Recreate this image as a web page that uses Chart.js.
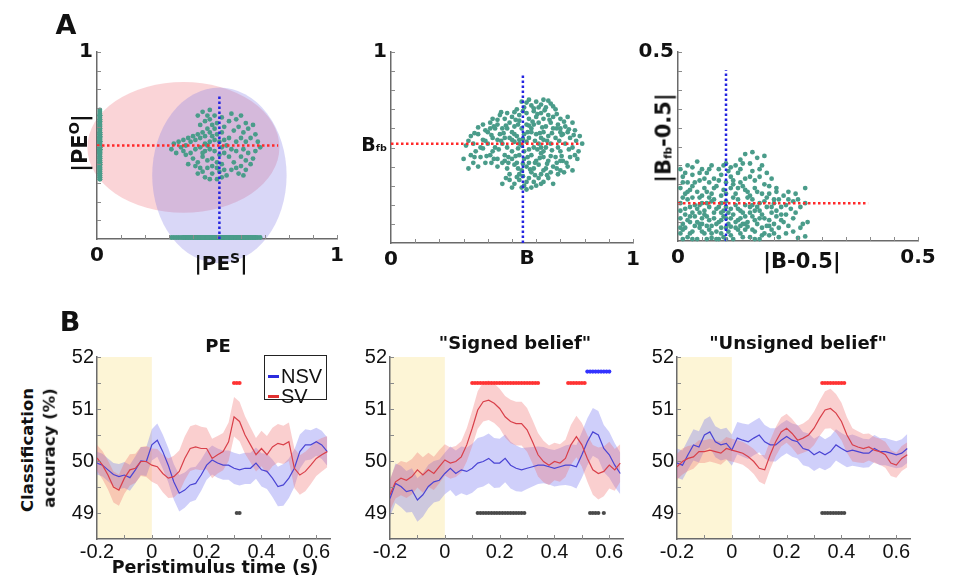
<!DOCTYPE html>
<html>
<head>
<meta charset="utf-8">
<script src="https://cdn.jsdelivr.net/npm/chart.js@4.4.1/dist/chart.umd.min.js"></script>
<style>
body { margin: 0; background: #fff; }
#fig { position: relative; width: 962px; height: 586px; overflow: hidden; font-family: 'DejaVu Sans', sans-serif; color: #111; }
#fig canvas { position: absolute; }
.lbl { position: absolute; font-weight: bold; white-space: nowrap; transform: translate(-50%, -50%); line-height: 1; }
.rot { transform: translate(-50%, -50%) rotate(-90deg); }
.lbl sup { font-size: 70%; vertical-align: 0.55em; }
.lbl sub { font-size: 50%; vertical-align: -0.1em; }
#legend { position: absolute; left: 264px; top: 355px; width: 61px; height: 43px; border: 1.5px solid #222; background: #fff;
  font-family: 'Liberation Sans', Arial, sans-serif; font-size: 20px; }
#legend div { position: absolute; left: 16px; line-height: 1; }
#legend span { position: absolute; left: -13px; top: 9px; width: 11px; height: 2.5px; }
</style>
</head>
<body>
<div id="fig">
  <div class="lbl" style="left:66px;top:24px;font-size:27px">A</div>
  <div class="lbl" style="left:70px;top:321px;font-size:27px">B</div>

  <div class="lbl" style="left:221px;top:262px;font-size:20px">|PE<sup>S</sup>|</div>
  <div class="lbl rot" style="left:79px;top:143px;font-size:21px">|PE<sup>O</sup>|</div>
  <div class="lbl" style="left:527px;top:257px;font-size:20px">B</div>
  <div class="lbl" style="left:374px;top:144px;font-size:19px">B<sub>fb</sub></div>
  <div class="lbl" style="left:802px;top:261px;font-size:21px">|B-0.5|</div>
  <div class="lbl rot" style="left:664px;top:138px;font-size:21px">|B<sub>fb</sub>-0.5|</div>

  <div class="lbl" style="left:218px;top:346px;font-size:18px">PE</div>
  <div class="lbl" style="left:515px;top:343px;font-size:18px">"Signed belief"</div>
  <div class="lbl" style="left:798px;top:343px;font-size:18px">"Unsigned belief"</div>
  <div class="lbl rot" style="left:28px;top:450px;font-size:16.5px">Classification</div>
  <div class="lbl rot" style="left:50px;top:448px;font-size:16.5px">accuracy (%)</div>
  <div class="lbl" style="left:215px;top:568px;font-size:17.5px">Peristimulus time (s)</div>

  <div id="legend">
    <div style="top:10px"><span style="background:#2b2bdd"></span>NSV</div>
    <div style="top:30px"><span style="background:#e03030"></span>SV</div>
  </div>
</div>

<script>
// ---- panel A : simulated trials ----
const cloudPE = [
  [0.42,0.66],[0.44,0.68],[0.46,0.66],[0.45,0.63],[0.43,0.61],[0.47,0.64],[0.48,0.61],[0.46,0.59],[0.44,0.57],[0.42,0.56],
  [0.40,0.55],[0.38,0.54],[0.36,0.53],[0.34,0.52],[0.32,0.51],[0.35,0.49],[0.37,0.50],[0.39,0.52],[0.41,0.53],[0.43,0.54],
  [0.45,0.55],[0.47,0.57],[0.49,0.59],[0.48,0.55],[0.50,0.56],[0.50,0.62],[0.49,0.66],[0.47,0.69],[0.52,0.65],[0.53,0.60],
  [0.55,0.63],[0.56,0.67],[0.58,0.64],[0.60,0.66],[0.62,0.62],[0.59,0.60],[0.57,0.58],[0.61,0.57],[0.63,0.59],[0.65,0.61],
  [0.66,0.56],[0.64,0.54],[0.67,0.52],[0.62,0.52],[0.60,0.54],[0.58,0.52],[0.55,0.54],[0.53,0.53],[0.52,0.57],[0.54,0.50],
  [0.56,0.48],[0.58,0.47],[0.61,0.48],[0.63,0.46],[0.66,0.47],[0.68,0.49],[0.65,0.43],[0.62,0.42],[0.60,0.44],[0.57,0.41],
  [0.55,0.44],[0.53,0.46],[0.51,0.45],[0.49,0.47],[0.47,0.48],[0.45,0.47],[0.43,0.49],[0.41,0.48],[0.39,0.46],[0.37,0.45],
  [0.36,0.47],[0.33,0.46],[0.31,0.48],[0.40,0.43],[0.42,0.41],[0.44,0.44],[0.46,0.42],[0.48,0.43],[0.50,0.41],[0.52,0.40],
  [0.50,0.38],[0.48,0.39],[0.46,0.38],[0.44,0.36],[0.42,0.35],[0.45,0.33],[0.48,0.35],[0.51,0.36],[0.53,0.37],[0.54,0.34],
  [0.56,0.37],[0.58,0.38],[0.60,0.39],[0.62,0.37],[0.61,0.34],[0.59,0.35],[0.64,0.40],[0.52,0.33],[0.50,0.32],[0.47,0.32],
  [0.43,0.38],[0.41,0.39],[0.38,0.40],[0.45,0.51],[0.47,0.52],[0.51,0.52],[0.52,0.49],[0.49,0.53],[0.46,0.50],[0.44,0.46]
];
const crossPE = [0.51, 0.50];        // mean |PE_S|, mean |PE_O|
const crossPEEnd = [0.755, 0.775];   // end of red / blue dotted lines
const ellipsesPE = [[0.36, 0.49, 0.40, 0.35], [0.51, 0.34, 0.28, 0.47]]; // cx, cy, rx, ry

const cloudB = [
  [0.54,0.74],[0.57,0.75],[0.60,0.74],[0.63,0.75],[0.66,0.73],[0.58,0.72],[0.61,0.71],[0.55,0.71],[0.52,0.70],[0.64,0.71],[0.68,0.70],
  [0.45,0.67],[0.48,0.68],[0.50,0.66],[0.53,0.67],[0.56,0.68],[0.59,0.69],[0.62,0.68],[0.65,0.67],[0.67,0.66],[0.70,0.65],[0.42,0.65],
  [0.47,0.65],[0.57,0.65],[0.60,0.66],[0.63,0.65],[0.73,0.66],
  [0.38,0.62],[0.41,0.63],[0.44,0.62],[0.46,0.60],[0.49,0.63],[0.51,0.61],[0.53,0.64],[0.56,0.62],[0.58,0.60],[0.61,0.63],[0.64,0.61],
  [0.66,0.63],[0.69,0.62],[0.72,0.61],[0.75,0.63],[0.39,0.59],[0.43,0.60],[0.48,0.60],[0.54,0.60],[0.59,0.62],[0.63,0.58],[0.67,0.60],
  [0.70,0.58],[0.76,0.59],
  [0.33,0.56],[0.36,0.57],[0.40,0.58],[0.42,0.55],[0.45,0.57],[0.47,0.55],[0.50,0.58],[0.52,0.56],[0.55,0.57],[0.57,0.55],[0.60,0.57],
  [0.62,0.55],[0.65,0.56],[0.68,0.55],[0.71,0.57],[0.74,0.55],[0.78,0.56],[0.38,0.54],[0.44,0.54],[0.49,0.55],[0.53,0.54],[0.58,0.58],
  [0.63,0.54],[0.73,0.58],
  [0.31,0.51],[0.34,0.52],[0.37,0.50],[0.40,0.52],[0.43,0.50],[0.46,0.52],[0.48,0.50],[0.51,0.53],[0.54,0.51],[0.56,0.53],[0.59,0.50],
  [0.61,0.52],[0.64,0.50],[0.66,0.52],[0.69,0.50],[0.72,0.52],[0.75,0.50],[0.79,0.52],[0.35,0.48],[0.42,0.48],[0.50,0.48],[0.57,0.49],
  [0.63,0.48],[0.70,0.48],
  [0.30,0.44],[0.33,0.46],[0.37,0.45],[0.41,0.46],[0.44,0.44],[0.47,0.46],[0.50,0.44],[0.53,0.46],[0.55,0.44],[0.58,0.46],[0.60,0.43],
  [0.63,0.45],[0.65,0.43],[0.68,0.45],[0.71,0.43],[0.74,0.45],[0.77,0.44],[0.39,0.42],[0.46,0.42],[0.52,0.42],[0.57,0.42],[0.62,0.47],
  [0.32,0.39],[0.36,0.40],[0.44,0.40],[0.48,0.39],[0.51,0.41],[0.54,0.38],[0.56,0.40],[0.59,0.39],[0.61,0.41],[0.64,0.39],[0.67,0.40],
  [0.70,0.38],[0.73,0.40],[0.75,0.38],[0.49,0.36],[0.53,0.36],[0.58,0.37],[0.62,0.36],[0.66,0.37],[0.69,0.36],
  [0.49,0.33],[0.51,0.31],[0.53,0.33],[0.55,0.30],[0.57,0.34],[0.59,0.32],[0.61,0.34],[0.63,0.32],[0.65,0.34],[0.50,0.29],[0.58,0.29],
  [0.46,0.31],[0.67,0.31],[0.56,0.28],
  [0.56,0.735],[0.62,0.725],[0.65,0.745],[0.51,0.685],[0.545,0.69],[0.605,0.675],[0.635,0.695],[0.685,0.675],[0.44,0.645],[0.515,0.645],
  [0.585,0.635],[0.655,0.645],[0.715,0.635],[0.36,0.605],[0.425,0.61],[0.475,0.615],[0.525,0.62],[0.57,0.615],[0.625,0.605],[0.685,0.60],
  [0.735,0.595],[0.345,0.575],[0.415,0.565],[0.465,0.575],[0.51,0.57],[0.565,0.58],[0.615,0.575],[0.665,0.575],[0.705,0.565],[0.755,0.565],
  [0.32,0.535],[0.39,0.535],[0.455,0.535],[0.50,0.54],[0.545,0.545],[0.595,0.535],[0.645,0.535],[0.695,0.535],[0.765,0.535],[0.38,0.495],
  [0.445,0.49],[0.525,0.495],[0.55,0.48],[0.605,0.49],[0.665,0.485],[0.735,0.49],[0.775,0.48],[0.345,0.45],[0.395,0.455],[0.425,0.44],
  [0.485,0.45],[0.515,0.455],[0.565,0.45],[0.615,0.445],[0.66,0.455],[0.705,0.455],[0.76,0.46],[0.34,0.42],[0.415,0.42],[0.485,0.42],
  [0.545,0.415],[0.595,0.42],[0.645,0.415],[0.685,0.42],[0.725,0.42],[0.525,0.39],[0.575,0.385],[0.63,0.38],[0.685,0.39],[0.715,0.37],
  [0.545,0.35],[0.595,0.355],[0.645,0.355],[0.52,0.345],[0.56,0.32],[0.62,0.31],[0.475,0.34],[0.54,0.29],[0.60,0.30],[0.70,0.43],
  [0.41,0.60],[0.455,0.685],[0.59,0.705],[0.67,0.715],[0.70,0.60],[0.62,0.50],[0.53,0.52],[0.47,0.43]
];
const crossB = [0.545, 0.52];
const crossBEnd = [0.78, 0.89];

const cloudAbsB = [
  [0.005,0.19],[0.02,0.20],[0.04,0.21],[0.05,0.19],[0.07,0.20],[0.10,0.205],[0.12,0.20],[0.13,0.215],[0.14,0.23],[0.155,0.235],
  [0.165,0.22],[0.15,0.205],[0.18,0.225],[0.175,0.20],[0.085,0.19],
  [0.01,0.17],[0.03,0.175],[0.045,0.16],[0.06,0.18],[0.075,0.165],[0.09,0.175],[0.11,0.17],[0.125,0.18],[0.14,0.165],[0.155,0.185],
  [0.17,0.17],[0.185,0.18],[0.02,0.155],[0.065,0.155],[0.10,0.155],[0.13,0.155],[0.16,0.16],[0.195,0.165],
  [0.005,0.14],[0.015,0.125],[0.03,0.145],[0.04,0.13],[0.055,0.14],[0.07,0.125],[0.08,0.145],[0.095,0.135],[0.11,0.14],[0.12,0.125],
  [0.135,0.145],[0.145,0.13],[0.16,0.14],[0.175,0.125],[0.19,0.145],[0.205,0.13],[0.22,0.12],[0.245,0.125],[0.05,0.12],[0.09,0.12],
  [0.115,0.15],[0.18,0.15],[0.15,0.12],[0.025,0.135],
  [0.005,0.10],[0.02,0.11],[0.035,0.095],[0.045,0.115],[0.06,0.10],[0.075,0.11],[0.085,0.09],[0.10,0.105],[0.11,0.085],[0.125,0.11],
  [0.14,0.095],[0.155,0.11],[0.165,0.09],[0.18,0.105],[0.195,0.09],[0.21,0.11],[0.225,0.095],[0.24,0.105],[0.255,0.09],[0.265,0.10],
  [0.015,0.085],[0.055,0.08],[0.095,0.08],[0.13,0.08],[0.17,0.08],[0.205,0.08],[0.03,0.115],[0.065,0.09],[0.115,0.115],[0.235,0.085],
  [0.145,0.115],[0.185,0.09],
  [0.005,0.06],[0.015,0.07],[0.025,0.05],[0.035,0.065],[0.045,0.045],[0.055,0.07],[0.065,0.055],[0.075,0.075],[0.085,0.05],[0.095,0.065],
  [0.105,0.045],[0.115,0.07],[0.125,0.055],[0.135,0.075],[0.145,0.05],[0.155,0.065],[0.165,0.045],[0.175,0.07],[0.19,0.055],[0.205,0.065],
  [0.22,0.05],[0.24,0.06],[0.26,0.045],[0.03,0.075],[0.07,0.04],[0.11,0.06],[0.15,0.075],[0.185,0.04],[0.01,0.045],[0.05,0.06],
  [0.09,0.075],[0.13,0.04],[0.20,0.045],
  [0.005,0.02],[0.015,0.035],[0.02,0.01],[0.03,0.025],[0.04,0.005],[0.045,0.035],[0.055,0.02],[0.065,0.03],[0.07,0.008],[0.08,0.025],
  [0.09,0.035],[0.095,0.01],[0.105,0.025],[0.115,0.005],[0.12,0.035],[0.13,0.02],[0.14,0.03],[0.15,0.01],[0.16,0.025],[0.17,0.005],
  [0.18,0.02],[0.195,0.03],[0.21,0.01],[0.225,0.02],[0.25,0.008],[0.265,0.012],[0.01,0.005],[0.06,0.005],[0.11,0.038],[0.035,0.04],
  [0.085,0.005],[0.145,0.038],
  [0.01,0.03],[0.02,0.055],[0.025,0.09],[0.03,0.005],[0.04,0.05],[0.04,0.085],[0.05,0.025],[0.05,0.10],[0.06,0.04],[0.06,0.065],
  [0.07,0.02],[0.07,0.105],[0.08,0.045],[0.08,0.085],[0.09,0.02],[0.09,0.055],[0.10,0.035],[0.10,0.09],[0.11,0.015],[0.12,0.05],
  [0.12,0.095],[0.13,0.06],[0.135,0.01],[0.14,0.045],[0.15,0.09],[0.155,0.03],[0.16,0.055],[0.17,0.10],[0.175,0.035],[0.18,0.06],
  [0.19,0.015],[0.20,0.10],[0.21,0.035],[0.215,0.07],[0.23,0.04],[0.245,0.075],[0.01,0.115],[0.02,0.13],[0.035,0.155],[0.045,0.18],
  [0.055,0.165],[0.06,0.13],[0.075,0.14],[0.085,0.16],[0.10,0.125],[0.105,0.185],[0.115,0.16],[0.125,0.14],[0.13,0.19],[0.14,0.135],
  [0.15,0.17],[0.165,0.13],[0.17,0.19],[0.19,0.125],[0.20,0.11],[0.01,0.155],[0.015,0.18],[0.03,0.195],[0.065,0.19],[0.095,0.20],
  [0.11,0.195],[0.135,0.205],[0.025,0.065],[0.005,0.08],[0.045,0.075],[0.065,0.115],[0.075,0.06],[0.10,0.06],[0.105,0.075],[0.125,0.085],
  [0.14,0.065],[0.16,0.08],[0.17,0.06],[0.195,0.075],[0.215,0.09],[0.23,0.11],[0.25,0.11],[0.27,0.05],[0.225,0.07],[0.005,0.035],
  [0.025,0.02],[0.05,0.045],[0.08,0.005],[0.10,0.005],[0.125,0.03],[0.135,0.045],[0.16,0.005],[0.175,0.015],[0.19,0.04],[0.20,0.02],
  [0.215,0.055],[0.24,0.025],[0.255,0.035],[0.045,0.095],[0.09,0.10],[0.155,0.095],[0.185,0.115],[0.205,0.14],[0.23,0.13],[0.265,0.14]
];
const crossAbsB = [0.10, 0.10];
const crossAbsBEnd = [0.396, 0.452];

// ---- panel B : decoding time courses ----
const times = [-0.2,-0.18,-0.16,-0.14,-0.12,-0.1,-0.08,-0.06,-0.04,-0.02,0,0.02,0.04,0.06,0.08,0.1,0.12,0.14,0.16,0.18,0.2,
  0.22,0.24,0.26,0.28,0.3,0.32,0.34,0.36,0.38,0.4,0.42,0.44,0.46,0.48,0.5,0.52,0.54,0.56,0.58,0.6,0.62,0.64];
const baseline = [-0.2, 0];

const peNSV = [49.96,49.92,49.83,49.74,49.70,49.73,49.68,49.83,50.00,49.99,50.31,50.40,50.18,49.92,49.60,49.38,49.44,49.54,49.57,49.73,49.92,
  50.02,49.96,49.92,49.92,49.86,49.83,49.86,49.86,49.96,49.83,49.80,49.67,49.51,49.54,49.67,49.86,50.18,50.31,50.31,50.37,50.31,50.18];
const peNSVsem = [0.22,0.22,0.22,0.22,0.24,0.25,0.25,0.26,0.27,0.28,0.30,0.32,0.33,0.33,0.34,0.35,0.34,0.33,0.32,0.30,0.28,
  0.28,0.28,0.28,0.28,0.30,0.30,0.30,0.30,0.30,0.32,0.34,0.36,0.38,0.40,0.38,0.36,0.33,0.30,0.28,0.27,0.27,0.27];
const peSV = [50.06,49.92,49.73,49.50,49.44,49.67,49.83,49.86,49.99,49.99,49.92,49.89,49.76,49.67,49.70,49.80,50.05,50.24,50.27,50.24,50.24,
  50.05,50.12,50.18,50.37,50.85,50.76,50.50,50.31,50.12,50.24,50.12,50.27,50.34,50.31,50.37,49.86,49.73,49.80,49.92,50.05,50.12,50.18];
const peSVsem = [0.25,0.27,0.28,0.30,0.30,0.30,0.30,0.28,0.28,0.30,0.32,0.34,0.36,0.38,0.40,0.40,0.42,0.43,0.43,0.42,0.40,
  0.38,0.36,0.36,0.37,0.38,0.38,0.36,0.34,0.32,0.34,0.36,0.37,0.37,0.37,0.37,0.38,0.38,0.38,0.36,0.34,0.32,0.30];

const sbNSV = [49.28,49.57,49.51,49.41,49.44,49.25,49.35,49.51,49.60,49.63,49.76,49.86,49.76,49.83,49.80,49.86,49.96,49.99,50.05,49.96,49.96,
  50.05,49.92,49.86,49.83,49.86,49.89,49.92,49.92,49.89,49.86,49.89,49.92,49.92,49.89,50.12,50.37,50.56,50.50,50.24,50.12,49.92,49.76];
const sbNSVsem = [0.35,0.38,0.40,0.40,0.42,0.42,0.42,0.42,0.40,0.40,0.40,0.42,0.44,0.45,0.46,0.47,0.48,0.48,0.48,0.48,0.47,
  0.46,0.45,0.44,0.42,0.40,0.38,0.36,0.35,0.34,0.35,0.36,0.38,0.40,0.42,0.44,0.45,0.46,0.46,0.45,0.44,0.42,0.40];
const sbSV = [49.35,49.60,49.67,49.63,49.70,49.83,49.73,49.83,49.76,49.89,50.02,49.96,49.99,50.08,50.31,50.63,50.98,51.14,51.17,51.11,51.01,
  50.85,50.76,50.72,50.72,50.60,50.37,50.12,49.99,49.92,49.99,49.96,50.05,50.31,50.47,50.31,50.05,49.83,49.76,49.80,49.92,49.83,49.96];
const sbSVsem = [0.30,0.32,0.33,0.34,0.34,0.34,0.34,0.33,0.32,0.32,0.30,0.30,0.30,0.30,0.32,0.34,0.36,0.38,0.38,0.38,0.38,
  0.40,0.42,0.42,0.42,0.42,0.42,0.42,0.40,0.38,0.36,0.36,0.36,0.38,0.40,0.42,0.45,0.48,0.50,0.48,0.45,0.40,0.36];

const ubNSV = [49.96,49.92,50.12,50.31,50.27,50.50,50.56,50.37,50.31,50.34,50.21,50.44,50.40,50.37,50.44,50.50,50.37,50.31,50.31,50.40,50.47,
  50.40,50.37,50.24,50.21,50.12,50.18,50.12,50.18,50.31,50.24,50.18,50.21,50.18,50.15,50.15,50.24,50.18,50.18,50.15,50.12,50.15,50.24];
const ubNSVsem = [0.28,0.28,0.29,0.30,0.30,0.30,0.30,0.30,0.30,0.30,0.30,0.31,0.32,0.33,0.33,0.33,0.32,0.32,0.32,0.32,0.32,
  0.32,0.32,0.32,0.32,0.31,0.31,0.30,0.30,0.30,0.30,0.30,0.30,0.29,0.28,0.27,0.26,0.26,0.26,0.26,0.26,0.27,0.28];
const ubSV = [49.89,49.99,50.05,50.08,50.18,50.18,50.21,50.18,50.15,50.24,50.21,50.18,50.15,50.08,49.99,49.86,49.83,50.12,50.37,50.56,50.63,
  50.53,50.40,50.44,50.50,50.63,50.82,50.98,51.01,50.92,50.76,50.50,50.31,50.27,50.24,50.27,50.21,50.18,50.12,49.96,49.92,50.05,50.12];
const ubSVsem = [0.25,0.25,0.24,0.23,0.22,0.22,0.22,0.22,0.22,0.22,0.22,0.22,0.22,0.23,0.24,0.26,0.28,0.28,0.28,0.28,0.28,
  0.28,0.28,0.28,0.30,0.32,0.34,0.36,0.38,0.37,0.36,0.34,0.32,0.30,0.28,0.26,0.25,0.25,0.25,0.25,0.24,0.24,0.24];

// significant time points (SV, NSV, SV vs NSV)
const sigLevels = [51.5, 51.72, 49];
const peSigSV = [0.30, 0.31, 0.32];
const peSigDiff = [0.31, 0.32];
const sbSigSV = [0.10,0.11,0.12,0.13,0.14,0.15,0.16,0.17,0.18,0.19,0.20,0.21,0.22,0.23,0.24,0.25,0.26,0.27,0.28,0.29,0.30,0.31,0.32,0.33,0.34,
  0.45,0.46,0.47,0.48,0.49,0.50,0.51];
const sbSigNSV = [0.52,0.53,0.54,0.55,0.56,0.57,0.58,0.59,0.60];
const sbSigDiff = [0.12,0.13,0.14,0.15,0.16,0.17,0.18,0.19,0.20,0.21,0.22,0.23,0.24,0.25,0.26,0.27,0.28,0.29,0.53,0.54,0.55,0.56,0.58];
const ubSigSV = [0.33,0.34,0.35,0.36,0.37,0.38,0.39,0.40,0.41];
const ubSigDiff = [0.33,0.34,0.35,0.36,0.37,0.38,0.39,0.40,0.41];

const TEAL = '#4a9c8a';
const RED = '#ff2a2a';
const BLUE = '#2424e0';
const PAD = { l: 60, r: 40, t: 20, b: 40 };
const boldFont = { family: "'DejaVu Sans', sans-serif", weight: 'bold', size: 20 };
const plainFont = { family: "'Liberation Sans', Arial, sans-serif", size: 20 };

function near(v, s) { return Math.abs(v / s - Math.round(v / s)) < 1e-6; }

function place(area) {
    const c = document.createElement("canvas");
    const w = area.r - area.l + PAD.l + PAD.r;
    const h = area.b - area.t + PAD.t + PAD.b;
    c.width = w; c.height = h;
    c.style.width = w + "px"; c.style.height = h + "px";
    c.style.left = (area.l - PAD.l) + "px";
    c.style.top = (area.t - PAD.t) + "px";
    document.getElementById("fig").insertBefore(c, document.querySelector("#fig .lbl"));
    return c;
}

// shading, ellipses and inward tick marks
const decor = {
    id: "decor",
    beforeDraw(chart, args, o) {
        const { ctx, chartArea: a, scales: { x, y } } = chart;
        ctx.save();
        if (o.shade) {
            const x0 = x.getPixelForValue(o.shade[0]), x1 = x.getPixelForValue(o.shade[1]);
            ctx.fillStyle = "#fdf5d6";
            ctx.fillRect(x0, a.top, x1 - x0, a.bottom - a.top);
        }
        (o.ellipses || []).forEach((e, i) => {
            const cx = x.getPixelForValue(e[0]), cy = y.getPixelForValue(e[1]);
            const rx = x.getPixelForValue(e[0] + e[2]) - cx;
            const ry = cy - y.getPixelForValue(e[1] + e[3]);
            ctx.beginPath();
            ctx.ellipse(cx, cy, rx, ry, 0, 0, Math.PI * 2);
            ctx.fillStyle = o.ellipseColors[i];
            ctx.fill();
        });
        ctx.restore();
    },
    afterDraw(chart, args, o) {
        const { ctx, chartArea: a, scales: { x, y } } = chart;
        ctx.save();
        ctx.strokeStyle = "#8a8a8a";
        ctx.lineWidth = 1;
        ctx.beginPath();
        x.ticks.forEach(t => {
            if (!near(t.value, o.xStep) || t.value <= x.min) return;
            const px = Math.round(x.getPixelForValue(t.value)) + 0.5;
            ctx.moveTo(px, a.bottom); ctx.lineTo(px, a.bottom - 4);
        });
        y.ticks.forEach(t => {
            if (!near(t.value, o.yStep) || t.value <= y.min) return;
            const py = Math.round(y.getPixelForValue(t.value)) + 0.5;
            ctx.moveTo(a.left, py); ctx.lineTo(a.left + 4, py);
        });
        ctx.stroke();
        ctx.restore();
    }
};

function axis(pos, min, max, step, font, pad, label) {
    return {
        type: "linear", position: pos, min, max,
        afterFit(s) { if (pos === "left") s.width = PAD.l; else s.height = PAD.b; },
        grid: { display: false, drawTicks: false },
        border: { display: true, color: "#6a6a6a", width: 1.5 },
        ticks: { stepSize: step, includeBounds: false, autoSkip: false, maxRotation: 0, padding: pad, font, color: "#111", callback: label }
    };
}

function baseOptions(scales, decorOpts) {
    return {
        responsive: false, animation: false,
        layout: { padding: { left: 0, right: PAD.r, top: PAD.t, bottom: 0 } },
        scales,
        plugins: { legend: { display: false }, tooltip: { enabled: false }, decor: decorOpts }
    };
}

function pts(list) { return list.map(p => ({ x: p[0], y: p[1] })); }
function cloud(data) {
    return { data, backgroundColor: TEAL, pointRadius: 2.4, pointBorderWidth: 0, clip: false, order: 3 };
}
function dotted(p0, p1, color) {
    return { data: [p0, p1], showLine: true, borderColor: color, borderWidth: 2.5, borderDash: [2.5, 2.5],
        pointRadius: 0, order: 1, clip: false };
}

function scatterPanel(area, cloudPts, cross, crossEnd, max, extra, decorOpts) {
    const lab = v => (near(v, max) ? String(Math.round(v / max) * max) : "");
    const yLab = v => (v > max - 1e-6 ? String(max) : "");
    const datasets = [
        dotted({ x: 0, y: cross[1] }, { x: crossEnd[0], y: cross[1] }, RED),
        dotted({ x: cross[0], y: 0 }, { x: cross[0], y: crossEnd[1] }, BLUE),
        cloud(pts(cloudPts))
    ].concat(extra);
    new Chart(place(area), {
        type: "scatter",
        data: { datasets },
        options: baseOptions({
            x: axis("bottom", 0, max, max / 10, boldFont, 5, lab),
            y: axis("left", 0, max, max / 10, boldFont, 4, yLab)
        }, Object.assign({ xStep: max / 10, yStep: max / 10 }, decorOpts)),
        plugins: [decor]
    });
}

// A1 with marginal projections on both axes
scatterPanel({ l: 97, r: 337, t: 52, b: 239 }, cloudPE, crossPE, crossPEEnd, 1, [
    cloud(cloudPE.map(p => ({ x: 0.012, y: p[1] }))),
    cloud(cloudPE.map(p => ({ x: p[0], y: 0.008 })))
], { ellipses: ellipsesPE, ellipseColors: ["rgba(238,120,130,0.32)", "rgba(128,122,228,0.30)"] });
scatterPanel({ l: 391, r: 633, t: 52, b: 243 }, cloudB, crossB, crossBEnd, 1, [], {});
scatterPanel({ l: 678, r: 918, t: 52, b: 241 }, cloudAbsB, crossAbsB, crossAbsBEnd, 0.5, [], {});

function series(mean, sem, line, fillCol) {
    return [
        { data: times.map((t, i) => ({ x: t, y: mean[i] + sem[i] })), borderColor: "rgba(0,0,0,0)", pointRadius: 0, fill: false, order: 3 },
        { data: times.map((t, i) => ({ x: t, y: mean[i] - sem[i] })), borderColor: "rgba(0,0,0,0)", pointRadius: 0, fill: "-1",
          backgroundColor: fillCol, order: 3 },
        { data: times.map((t, i) => ({ x: t, y: mean[i] })), borderColor: line, borderWidth: 1.2, pointRadius: 0, fill: false, order: 2 }
    ];
}
function marks(list, level, color) {
    return { data: list.map(t => ({ x: t, y: level })), showLine: false, pointRadius: 2.1, pointBorderWidth: 0,
        backgroundColor: color, order: 1 };
}

function timePanel(area, sv, svSem, nsv, nsvSem, sigSV, sigNSV, sigDiff) {
    const datasets = series(sv, svSem, "#d9404a", "rgba(240,105,105,0.32)")
        .concat(series(nsv, nsvSem, "#4a44d4", "rgba(105,105,240,0.32)"));
    datasets.push(marks(sigSV, sigLevels[0], "#ff3333"));
    datasets.push(marks(sigNSV, sigLevels[1], "#3333ff"));
    datasets.push(marks(sigDiff, sigLevels[2], "#4a4a4a"));
    new Chart(place(area), {
        type: "line",
        data: { datasets },
        options: baseOptions({
            x: axis("bottom", -0.2, 0.65, 0.1, plainFont, 1, v => {
                if (!near(v, 0.2)) return "";
                const r = Math.round(v * 10) / 10;
                return r === 0 ? "0" : String(r);
            }),
            y: axis("left", 48.5, 52, 0.5, plainFont, 3, v => (near(v, 1) ? String(Math.round(v)) : ""))
        }, { shade: baseline, xStep: 0.1, yStep: 0.5 }),
        plugins: [decor]
    });
}

timePanel({ l: 97, r: 330, t: 357, b: 539 }, peSV, peSVsem, peNSV, peNSVsem, peSigSV, [], peSigDiff);
timePanel({ l: 390, r: 623, t: 357, b: 539 }, sbSV, sbSVsem, sbNSV, sbNSVsem, sbSigSV, sbSigNSV, sbSigDiff);
timePanel({ l: 677, r: 910, t: 357, b: 539 }, ubSV, ubSVsem, ubNSV, ubNSVsem, ubSigSV, [], ubSigDiff);
</script>
</body>
</html>
